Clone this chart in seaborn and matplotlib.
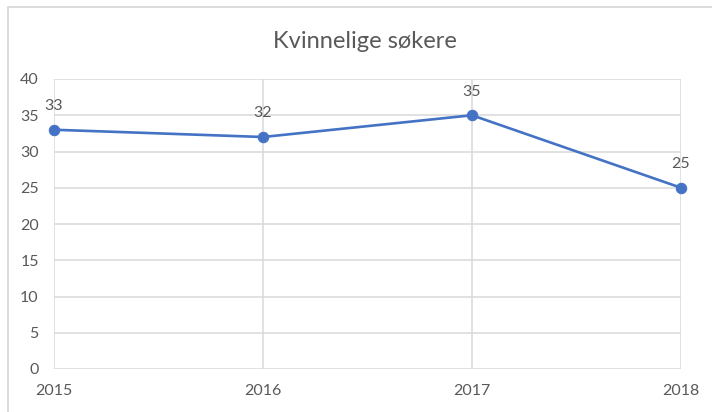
import matplotlib.pyplot as plt
import matplotlib.lines as mlines
import pandas as pd
import seaborn as sns

years = [2015, 2016, 2017, 2018]
values = [33, 32, 35, 25]
title = 'Kvinnelige søkere'

df = pd.DataFrame({'year': years, 'value': values})

sns.set_style('white')
plt.rcParams['font.family'] = ['Lato', 'DejaVu Sans']

text_color = '#595959'
grid_color = '#d9d9d9'
line_color = '#4472c4'

fig = plt.figure(figsize=(7.12, 4.12), dpi=100)
ax = fig.add_axes([54 / 712, 43 / 412, 627 / 712, 290 / 412])

sns.lineplot(data=df, x='year', y='value', ax=ax, color=line_color,
             linewidth=1.9, marker='o', markersize=7.5,
             markeredgecolor=line_color, zorder=3)
# keep the end markers whole
for ln in ax.lines:
    ln.set_clip_on(False)

# data labels above points
for x, y in zip(years, values):
    ax.annotate(str(y), (x, y), xytext=(0, 17), textcoords='offset points',
                ha='center', va='center', fontsize=11.5, color=text_color)

ax.set_xlim(2015, 2018)
ax.set_ylim(0, 40)
ax.set_xticks(years)
ax.set_yticks(range(0, 41, 5))
ax.set_xlabel('')
ax.set_ylabel('')
ax.grid(True, color=grid_color, linewidth=1.1)
ax.set_axisbelow(True)
for s in ax.spines.values():
    s.set_visible(False)
ax.tick_params(axis='both', length=0, labelsize=11.5, labelcolor=text_color)
ax.tick_params(axis='y', pad=11)
ax.tick_params(axis='x', pad=11)

fig.text(365 / 712, 1 - 42 / 412, title, ha='center', va='center',
         fontsize=17, color=text_color)

# chart area border (left and top visible)
fig.add_artist(mlines.Line2D([7.5 / 712, 7.5 / 712], [0, 1 - 6.5 / 412],
                             color=grid_color, linewidth=1.3))
fig.add_artist(mlines.Line2D([7.5 / 712, 1], [1 - 6.5 / 412, 1 - 6.5 / 412],
                             color=grid_color, linewidth=1.3))

fig.savefig('out.png', dpi=100)
